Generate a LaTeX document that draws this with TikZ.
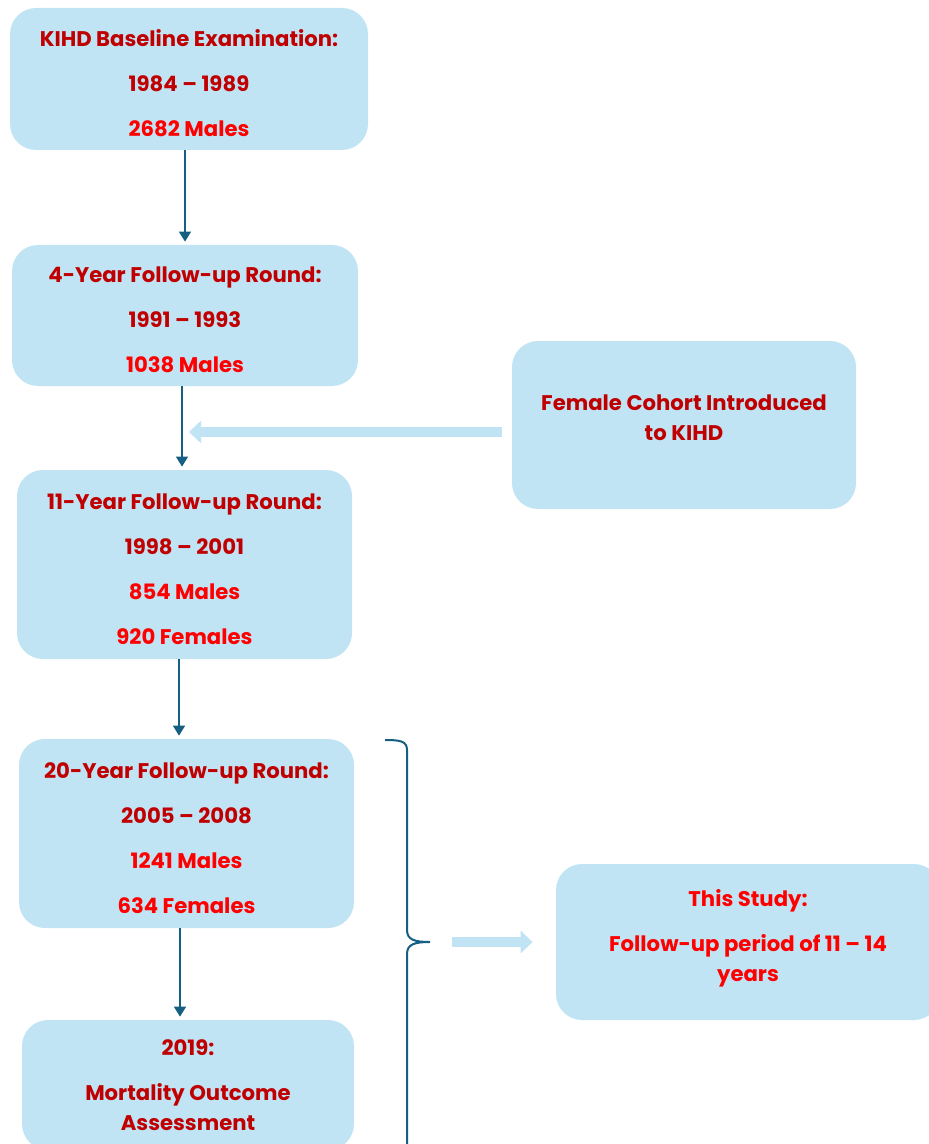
\documentclass[tikz,border=0pt]{standalone}
\usepackage{fontspec}
\setmainfont{Poppins}
\usetikzlibrary{arrows.meta}
\definecolor{boxblue}{RGB}{193,228,245}
\definecolor{darkred}{RGB}{192,0,0}
\definecolor{brightred}{RGB}{255,0,0}
\definecolor{linkblue}{RGB}{21,96,130}
\newcommand{\dk}[1]{\textcolor{darkred}{#1}}
\newcommand{\rd}[1]{\textcolor{brightred}{#1}}
\newcommand{\topgap}{\rule{0pt}{12.5pt}}
\begin{document}
\begin{tikzpicture}[x=0.5pt, y=-0.5pt,
  stage/.style={rounded corners=13pt, fill=boxblue, align=center, inner sep=0pt,
    font=\fontsize{10.6}{15}\selectfont\bfseries},
  link/.style={draw=linkblue, line width=0.8pt, -{Triangle[length=5pt,width=6pt]}, shorten >=1.5pt},
  fat/.style={draw=boxblue, line width=5pt, -{Triangle[length=6pt,width=11pt]}}]
\useasboundingbox (0,0) rectangle (928,1144);
% cohort rounds
\node [stage, minimum width=179pt, minimum height=71pt] (base) at (189,79)
  {\topgap\dk{KIHD Baseline Examination:}\\[7.5pt]\dk{1984 – 1989}\\[7.5pt]\rd{2682 Males}};
\node [stage, minimum width=173pt, minimum height=70.5pt] (fu4) at (185,315.5)
  {\topgap\dk{4-Year Follow-up Round:}\\[7.5pt]\dk{1991 – 1993}\\[7.5pt]\rd{1038 Males}};
\node [stage, minimum width=167.5pt, minimum height=94.5pt] (fu11) at (184.5,564.5)
  {\topgap\dk{11-Year Follow-up Round:}\\[7.5pt]\dk{1998 – 2001}\\[7.5pt]\rd{854 Males}\\[7.5pt]\rd{920 Females}};
\node [stage, minimum width=167.5pt, minimum height=94.5pt] (fu20) at (186.5,833.5)
  {\topgap\dk{20-Year Follow-up Round:}\\[7.5pt]\dk{2005 – 2008}\\[7.5pt]\rd{1241 Males}\\[7.5pt]\rd{634 Females}};
\node [stage, minimum width=166pt, minimum height=65pt] (mort) at (188,1085)
  {\dk{2019:}\\[7.5pt]\dk{Mortality Outcome}\\\dk{Assessment}};
% side boxes
\node [stage, minimum width=172pt, minimum height=84pt, text depth=7pt] (female) at (684,425)
  {\dk{Female Cohort Introduced}\\\dk{to KIHD}};
\node [stage, minimum width=192pt, minimum height=78pt, text depth=7pt] (study) at (748,942)
  {\rd{This Study:}\\[7.5pt]\rd{Follow-up period of 11 – 14}\\\rd{years}};
% links
\draw [link] (fu4.north |- base.south) -- (fu4.north);
\draw [link] ([xshift=-1.5pt]fu4.south) -- ([xshift=-1.25pt]fu11.north);
\draw [link] ([xshift=-2.75pt]fu11.south) -- ([xshift=-3.75pt]fu20.north);
\draw [link] ([xshift=-3.25pt]fu20.south) -- ([xshift=-4pt]mort.north);
\coordinate (femtip) at (189,432);
\draw [fat] ([xshift=-5pt,yshift=-3.5pt]female.west) -- (femtip);
% brace
\coordinate (bracetip) at (430,942);
\draw [linkblue, line width=1pt]
  (385,740) .. controls (400,740) and (407,741) .. (407,750) -- (407,930)
  .. controls (407,940) and (415,942) .. (bracetip)
  .. controls (415,942) and (407,944) .. (407,954) -- (407,1160);
\draw [fat] ([xshift=11pt]bracetip) -- ([xshift=-11.5pt]study.west);
\end{tikzpicture}
\end{document}
